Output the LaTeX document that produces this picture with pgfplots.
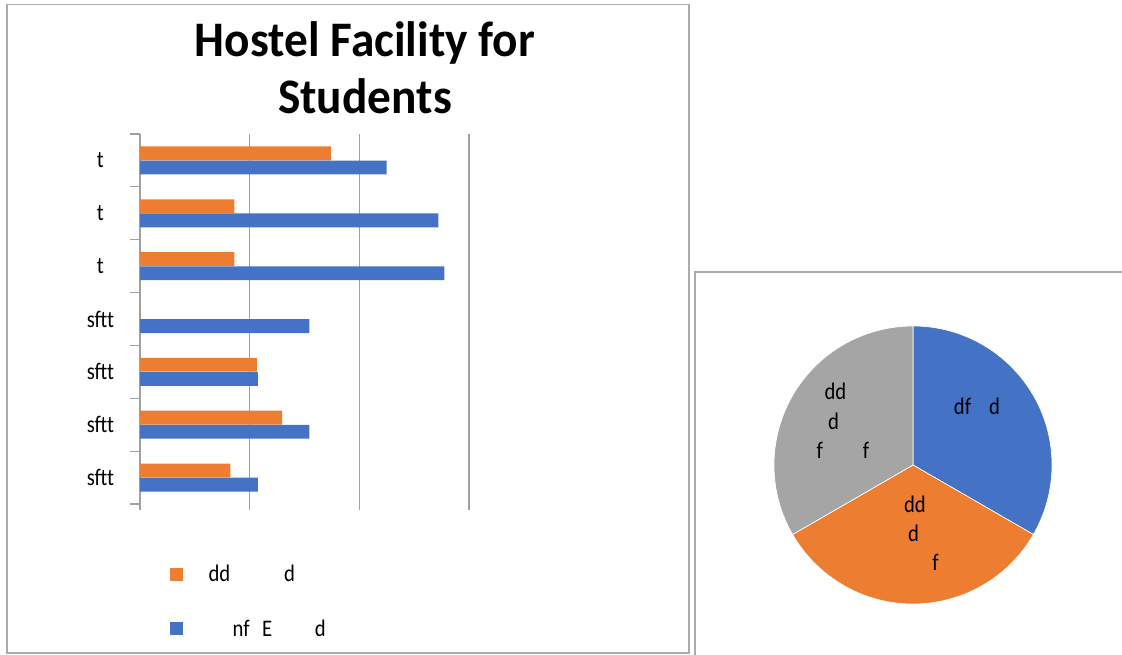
\documentclass[border=0pt]{standalone}
\usepackage{pgfplots}
\usepackage{pgfplotstable}
\usepackage{graphicx}
\pgfplotsset{compat=1.18}
\usepackage{fontspec}
\setmainfont{Carlito}
\definecolor{cblue}{HTML}{4472C4}
\definecolor{corange}{HTML}{ED7D31}
\definecolor{cgray}{HTML}{A5A5A5}
\definecolor{frame}{HTML}{ABABAB}
\definecolor{gridc}{HTML}{A0A0A0}

\pgfplotstableread{
cat orange blue
7 34.8 45.0
6 17.2 54.4
5 17.2 55.5
4 0 30.9
3 21.3 21.5
2 25.9 30.9
1 16.5 21.5
}\bardata

\pgfplotstableread{
slice value
blue 1
orange 1
gray 1
}\piedata

\pgfplotstablegetelem{0}{value}\of\piedata \let\va\pgfplotsretval
\pgfplotstablegetelem{1}{value}\of\piedata \let\vb\pgfplotsretval
\pgfplotstablegetelem{2}{value}\of\piedata \let\vc\pgfplotsretval
\pgfmathsetmacro\total{\va+\vb+\vc}
\pgfmathsetmacro\aa{90-360*\va/\total}
\pgfmathsetmacro\ab{\aa-360*\vb/\total}
\pgfmathsetmacro\ac{\ab-360*\vc/\total}

\newcommand\lbl{\fontsize{15.5}{18}\selectfont}
\newcommand\st[1]{\scalebox{1}[1.15]{#1}}

\begin{document}
\begin{tikzpicture}
\begin{scope}[x=0.75pt,y=-0.75pt]
\path[use as bounding box] (0,0) rectangle (1122,655);
\draw[frame, line width=1.4pt] (7,4.5) rectangle (689,653);
\draw[frame, line width=1.4pt] (695,700) -- (695,272) -- (1140,272);
\node[font=\bfseries\fontsize{35.5}{40}\selectfont, anchor=base] at (365,57) {\scalebox{1}[1.05]{Hostel Facility for}};
\node[font=\bfseries\fontsize{35.5}{40}\selectfont, anchor=base] at (365,114) {\scalebox{1}[1.05]{Students}};
\end{scope}

\begin{axis}[
  at={(105pt,-378pt)}, anchor=south west,
  width=246.75pt, height=277.5pt, scale only axis,
  xbar, bar width=0.262,
  xmin=0, xmax=60, ymin=0.5, ymax=7.5,
  axis y line*=left, axis x line*=bottom,
  x axis line style={draw=none},
  y axis line style={gridc, line width=0.8pt},
  xtick={0,20,40,60}, xticklabels={},
  xmajorgrids, major grid style={gridc, line width=0.8pt},
  ytick={1,...,7}, yticklabels={\st{sftt},\st{sftt},\st{sftt},\st{sftt},\st{t},\st{t},\st{t}},
  minor ytick={0.5,1.5,...,7.5},
  tick align=outside,
  major tick length=4.5pt, minor tick length=7.5pt,
  major x tick style={gridc, line width=0.8pt},
  major y tick style={draw=none},
  minor y tick style={gridc, line width=0.8pt},
  yticklabel style={font=\lbl, anchor=center, xshift=-25.2pt},
  legend style={at={(0.091,-0.157)}, anchor=north west, draw=none, fill=none,
    font=\lbl, row sep=23pt, inner sep=0pt},
  legend cell align=left,
  legend image code/.code={\fill[#1] (0pt,-4.875pt) rectangle (9.75pt,4.875pt); \path[draw=none,fill=none] (0pt,0pt) -- (26.75pt,0pt);},
]
\addplot[fill=corange, draw=none, bar shift=0.134] table[x=orange, y=cat]{\bardata};
\addlegendentry{\st{dd\hspace{40.5pt}d}}
\addplot[fill=cblue, draw=none, bar shift=-0.134] table[x=blue, y=cat]{\bardata};
\addlegendentry{\st{\hspace*{18pt}nf\hspace{9.5pt}E\hspace{32pt}d}}
\end{axis}

\begin{axis}[
  at={(684.75pt,-348.75pt)}, anchor=origin,
  hide axis, scale only axis, width=208.5pt, height=208.5pt,
  xmin=-1, xmax=1, ymin=-1, ymax=1, clip=false]
\fill[cblue, draw=white, line width=0.5pt] (axis cs:0,0) -- ++(90:104.25pt) arc[start angle=90, end angle=\aa, radius=104.25pt] -- cycle;
\fill[corange, draw=white, line width=0.5pt] (axis cs:0,0) -- ++(\aa:104.25pt) arc[start angle=\aa, end angle=\ab, radius=104.25pt] -- cycle;
\fill[cgray, draw=white, line width=0.5pt] (axis cs:0,0) -- ++(\ab:104.25pt) arc[start angle=\ab, end angle=\ac, radius=104.25pt] -- cycle;
\node[font=\lbl] at (axis cs:0.460,0.424) {\st{df\hspace{13.5pt}d}};
\node[font=\lbl] at (axis cs:-0.558,0.532) {\st{dd}};
\node[font=\lbl] at (axis cs:-0.572,0.317) {\st{d}};
\node[font=\lbl] at (axis cs:-0.504,0.108) {\st{f\hspace{30pt}f}};
\node[font=\lbl] at (axis cs:0.014,-0.281) {\st{dd}};
\node[font=\lbl] at (axis cs:0.004,-0.489) {\st{d}};
\node[font=\lbl] at (axis cs:0.162,-0.698) {\st{f}};
\end{axis}
\end{tikzpicture}
\end{document}
